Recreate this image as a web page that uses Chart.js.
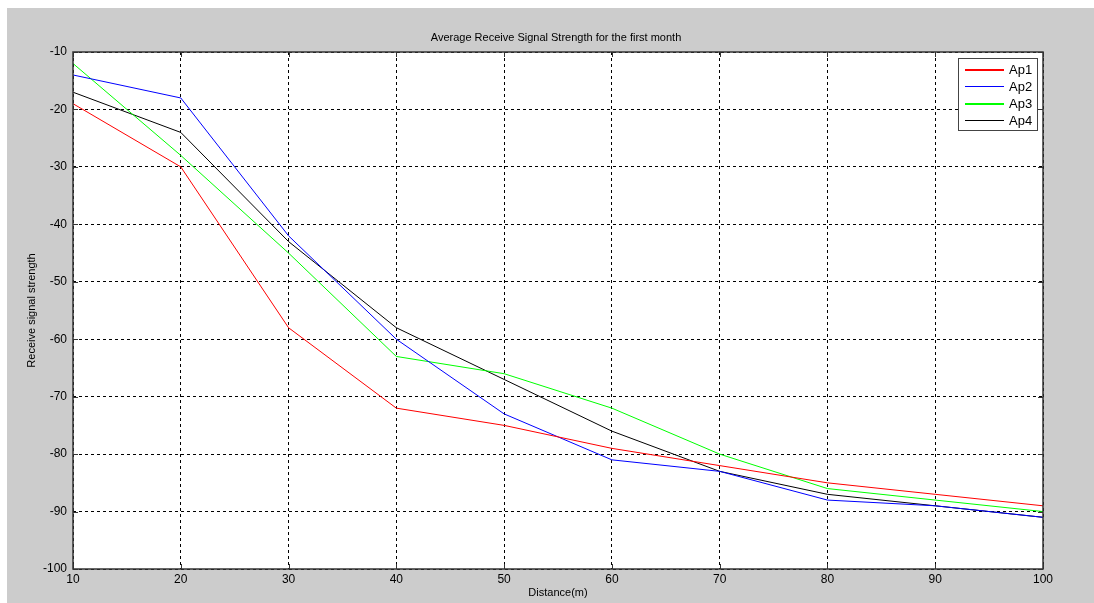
<!DOCTYPE html>
<html>
<head>
<meta charset="utf-8">
<script src="https://cdn.jsdelivr.net/npm/chart.js@4.4.0/dist/chart.umd.min.js"></script>
<style>
  html, body { margin: 0; padding: 0; background: #fff; }
  #wrap { position: absolute; left: 7px; top: 8px; width: 1087px; height: 595px; background: #cccccc; }
  canvas { display: block; }
</style>
</head>
<body>
<div id="wrap"><canvas id="chart" width="1087" height="595"></canvas></div>
<script>
  const distances = [10, 20, 30, 40, 50, 60, 70, 80, 90, 100];
  const ap1 = [-19, -30, -58, -72, -75, -79, -82, -85, -87, -89];
  const ap2 = [-14, -18, -42, -60, -73, -81, -83, -88, -89, -91];
  const ap3 = [-12, -28, -45, -63, -66, -72, -80, -86, -88, -90];
  const ap4 = [-17, -24, -43, -58, -67, -76, -83, -87, -89, -91];
  const seriesNames = ['Ap1', 'Ap2', 'Ap3', 'Ap4'];
  const seriesColors = ['#ff0000', '#0000ff', '#00ff00', '#000000'];
  const xTicks = [10, 20, 30, 40, 50, 60, 70, 80, 90, 100];
  const yTicks = [-100, -90, -80, -70, -60, -50, -40, -30, -20, -10];

  const FONT = '"Liberation Sans", Arial, sans-serif';

  const toPoints = vals => vals.map((v, i) => ({ x: distances[i], y: v }));

  // box, inner tick marks, titles and legend, drawn the MATLAB way
  const matlabFrame = {
    id: 'matlabFrame',
    afterDraw(chart) {
      const { ctx, chartArea: a, scales } = chart;
      ctx.save();

      ctx.strokeStyle = '#333';
      ctx.lineWidth = 1;
      ctx.setLineDash([]);
      ctx.beginPath();
      xTicks.forEach(t => {
        const x = Math.round(scales.x.getPixelForValue(t)) + 0.5;
        ctx.moveTo(x, a.bottom); ctx.lineTo(x, a.bottom - 5);
        ctx.moveTo(x, a.top); ctx.lineTo(x, a.top + 5);
      });
      yTicks.forEach(t => {
        const y = Math.round(scales.y.getPixelForValue(t)) + 0.5;
        ctx.moveTo(a.left, y); ctx.lineTo(a.left + 5, y);
        ctx.moveTo(a.right, y); ctx.lineTo(a.right - 5, y);
      });
      ctx.stroke();
      ctx.lineWidth = 1.5;
      ctx.strokeRect(a.left, a.top, a.right - a.left, a.bottom - a.top);

      ctx.fillStyle = '#000';
      ctx.font = '11px ' + FONT;
      ctx.textAlign = 'center';
      ctx.textBaseline = 'middle';
      ctx.fillText('Average Receive Signal Strength for the first month', (a.left + a.right) / 2 - 2, 30);
      ctx.fillText('Distance(m)', (a.left + a.right) / 2, 585);
      ctx.save();
      ctx.translate(25, (a.top + a.bottom) / 2);
      ctx.rotate(-Math.PI / 2);
      ctx.fillText('Receive signal strength', 0, 0);
      ctx.restore();

      // legend
      const bw = 79, bh = 72;
      const bx = Math.round(a.right - 6 - bw), by = Math.round(a.top + 6);
      ctx.fillStyle = '#fff';
      ctx.fillRect(bx, by, bw, bh);
      ctx.strokeStyle = '#444';
      ctx.lineWidth = 1;
      ctx.strokeRect(bx + 0.5, by + 0.5, bw, bh);
      ctx.font = '13px ' + FONT;
      ctx.textAlign = 'left';
      seriesNames.forEach((name, i) => {
        const y = Math.round(by + 10.5 + i * 17);
        ctx.fillStyle = seriesColors[i];
        ctx.fillRect(bx + 7, y, 39, i === 0 || i === 2 ? 2 : 1);
        ctx.fillStyle = '#000';
        ctx.fillText(name, bx + 51, y + 1);
      });
      ctx.restore();
    }
  };

  const datasets = [ap1, ap2, ap3, ap4].map((vals, i) => ({
    label: seriesNames[i],
    data: toPoints(vals),
    borderColor: seriesColors[i],
    backgroundColor: seriesColors[i],
    borderWidth: 1,
    pointRadius: 0,
    tension: 0,
    fill: false,
  }));

  const plotBg = {
    id: 'plotBg',
    beforeDraw(chart) {
      const { ctx, chartArea: a } = chart;
      ctx.save();
      ctx.fillStyle = '#fff';
      ctx.fillRect(a.left, a.top, a.right - a.left, a.bottom - a.top);
      ctx.restore();
    }
  };

  new Chart(document.getElementById('chart'), {
    type: 'line',
    data: { datasets },
    options: {
      responsive: false,
      animation: false,
      layout: { padding: { top: 44, right: 51, left: 0, bottom: 0 } },
      plugins: { legend: { display: false }, title: { display: false }, tooltip: { enabled: false } },
      scales: {
        x: {
          type: 'linear',
          min: 10,
          max: 100,
          afterFit: s => { s.height = 34; },
          afterBuildTicks: s => { s.ticks = xTicks.map(v => ({ value: v })); },
          ticks: { color: '#000', font: { family: FONT, size: 12 }, padding: 3, maxRotation: 0 },
          grid: { color: '#000', lineWidth: 1, drawTicks: false },
          border: { display: false, dash: [3, 3] },
        },
        y: {
          min: -100,
          max: -10,
          afterFit: s => { s.width = 66; },
          afterBuildTicks: s => { s.ticks = yTicks.map(v => ({ value: v })); },
          ticks: { color: '#000', font: { family: FONT, size: 12 }, padding: 6 },
          grid: { color: '#000', lineWidth: 1, drawTicks: false },
          border: { display: false, dash: [3, 3] },
        },
      },
    },
    plugins: [plotBg, matlabFrame],
  });
</script>
</body>
</html>
